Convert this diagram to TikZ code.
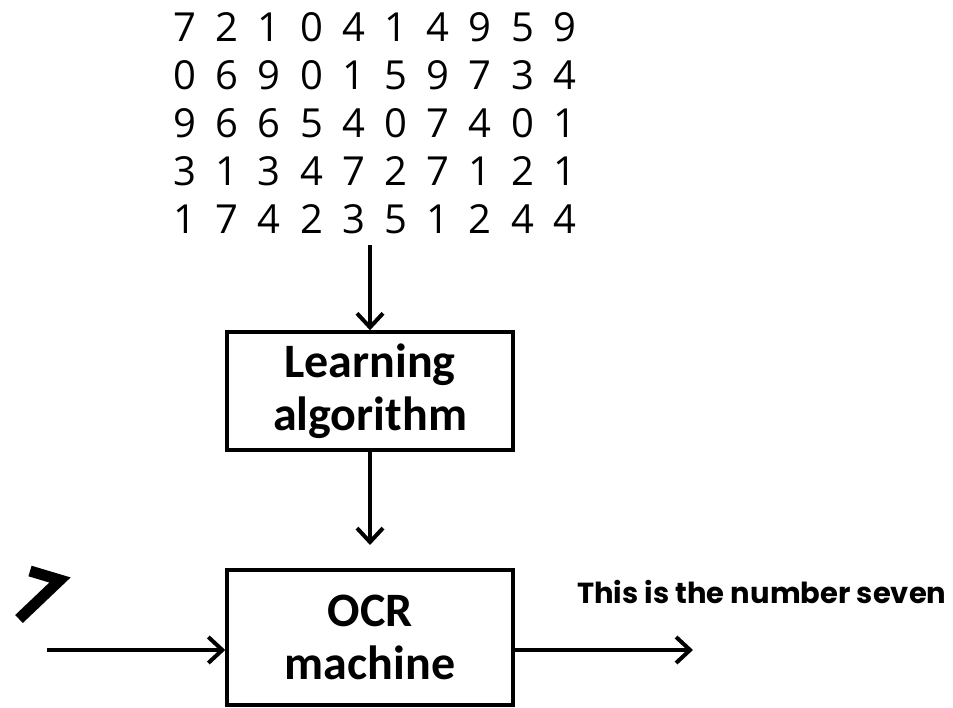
\documentclass[tikz,border=0pt]{standalone}
\usepackage{fontspec}
\usetikzlibrary{arrows.meta}
\newfontfamily\carl{Carlito}
\newfontfamily\popp{Poppins}
\newfontfamily\digitfont{Open Sans}
\tikzset{
  flowbox/.style={draw, line width=3.5pt, minimum width=286pt, align=center, inner sep=0pt,
    font=\carl\bfseries\fontsize{48}{53}\selectfont},
  flowarrow/.style={line width=4pt, -{Straight Barb[length=14pt,width=26pt]}},
  digitstyle/.style={inner sep=0pt, font=\digitfont\fontsize{40}{40}\selectfont},
}
\begin{document}
\begin{tikzpicture}[x=1pt,y=-1pt]
\useasboundingbox (0,0) rectangle (953,708);
% handwritten digit samples
\foreach \row [count=\j from 0] in {{7,2,1,0,4,1,4,9,5,9},{0,6,9,0,1,5,9,7,3,4},{9,6,6,5,4,0,7,4,0,1},{3,1,3,4,7,2,7,1,2,1},{1,7,4,2,3,5,1,2,4,4}}{
  \foreach \d [count=\i from 0] in \row {
    \node[digitstyle] (d-\j-\i) at ({185+42.2*\i},{27+48*\j}) {\d};
  }
}
\coordinate (gridout) at (370,245);
% boxes
\node[flowbox, minimum height=118pt] (learn) at (370,391) {Learning\\algorithm};
\node[flowbox, minimum height=135pt] (ocr) at (370,637.5) {OCR\\machine};
\coordinate (ocrin) at (370,545);
\coordinate (src) at (47,650);
\coordinate (out) at (693,650);
% input seven
\draw[line width=11pt, line join=miter, line cap=butt] (30,571) -- (60,580) -- (19,619);
% connectors
\draw[flowarrow] (gridout) -- (learn.north);
\draw[flowarrow] (learn.south) -- (ocrin);
\draw[flowarrow] (src) -- (ocr.west |- src);
\draw[flowarrow] (ocr.east |- src) -- (out);
\node[anchor=west, inner sep=0pt, font=\popp\bfseries\fontsize{29}{29}\selectfont] (result) at (577,592) {This is the number seven};
\end{tikzpicture}
\end{document}
